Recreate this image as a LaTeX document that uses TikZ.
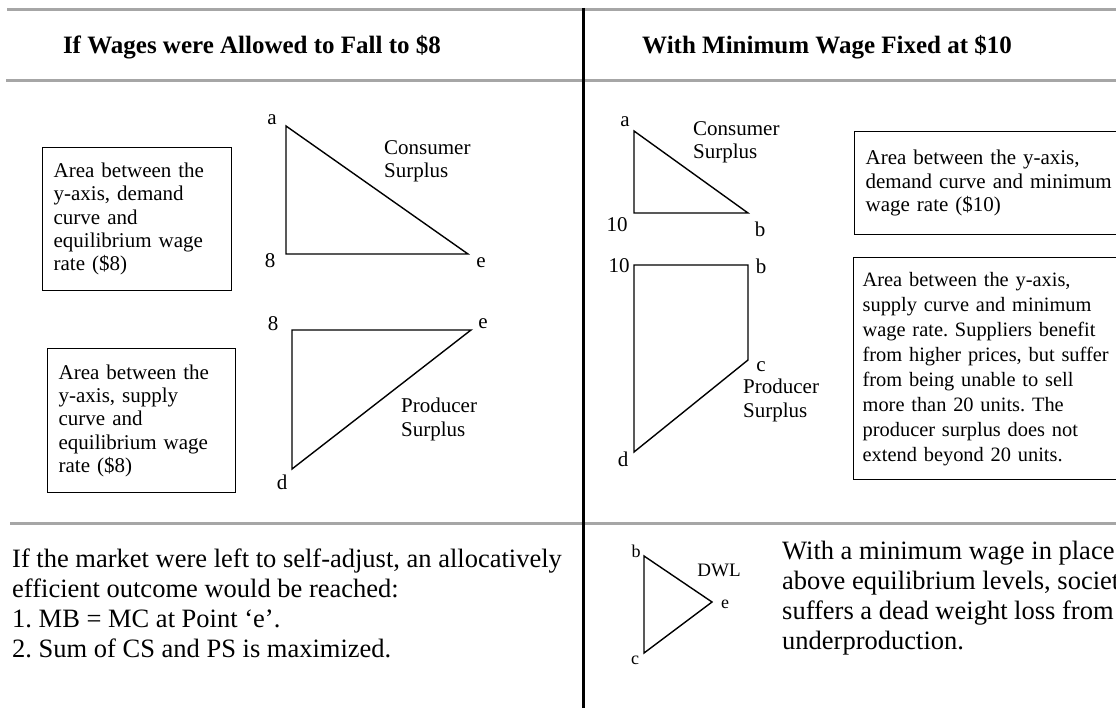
\documentclass[tikz,border=0pt]{standalone}
\usepackage{fontspec}
\setmainfont{Liberation Serif}
\usetikzlibrary{positioning}
\definecolor{rulegray}{HTML}{A6A6A6}
\frenchspacing
\newcommand\headfont{\fontsize{25}{30}\selectfont\bfseries}
\newcommand\boxfont{\fontsize{21}{23.3}\selectfont}
\newcommand\longboxfont{\fontsize{20.4}{25}\selectfont}
\newcommand\notefont{\fontsize{26.5}{30}\selectfont}
\newcommand\tinyfont{\fontsize{18}{20}\selectfont}
\begin{document}
\begin{tikzpicture}[x=1pt,y=-1pt,
    rule/.style={draw=rulegray,line width=3pt},
    divider/.style={draw=black,line width=3pt},
    area/.style={draw=black,line width=1.4pt,line join=miter},
    infobox/.style={draw=black,line width=1.3pt,align=left,anchor=north west,
      inner xsep=11pt,inner ysep=0pt,font=\boxfont},
    lbl/.style={font=\boxfont,inner sep=0pt},
    tinylbl/.style={font=\tinyfont,inner sep=0pt},
    note/.style={font=\notefont,align=left,anchor=north west,inner sep=0pt}]
  \path[use as bounding box,clip] (0,0) rectangle (1116,708);

  % table rules
  \coordinate (r1a) at (7,10);    \coordinate (r1b) at (1116,10);
  \coordinate (r2a) at (6,81);    \coordinate (r2b) at (1116,81);
  \coordinate (r3a) at (10,523);  \coordinate (r3b) at (1116,523);
  \coordinate (vtop) at (583,8);  \coordinate (vbot) at (583,708);
  \draw[rule] (r1a) -- (r1b);
  \draw[rule] (r2a) -- (r2b);
  \draw[rule] (r3a) -- (r3b);
  \draw[divider] (vtop) -- (vbot);

  % headers
  \node[font=\headfont,inner sep=0pt] (headL) at (252,47) {If Wages were Allowed to Fall to \$8};
  \node[font=\headfont,inner sep=0pt,anchor=west] (headR) at (642,47) {With Minimum Wage Fixed at \$10};

  % left: consumer surplus
  \node[infobox,text width=167pt,minimum height=143pt] (boxA) at (42,147)
    {Area between the\\y-axis, demand\\curve and\\equilibrium wage\\rate (\$8)};
  \coordinate (csA) at (286,126);
  \coordinate (cs8) at (286,254);
  \coordinate (csE) at (468,254);
  \draw[area] (csA) -- (cs8) -- (csE) -- cycle;
  \node[lbl] (lcsA) at (272,120) {a};
  \node[lbl] (lcs8) at (270,261) {8};
  \node[lbl] (lcsE) at (481,263) {e};
  \node[lbl,align=left,anchor=north west] (csText) at (384,140) {Consumer\\Surplus};

  % left: producer surplus
  \node[infobox,text width=166pt,minimum height=144pt] (boxB) at (47,348)
    {Area between the\\y-axis, supply\\curve and\\equilibrium wage\\rate (\$8)};
  \coordinate (ps8) at (292,330);
  \coordinate (psE) at (471,330);
  \coordinate (psD) at (292,469);
  \draw[area] (ps8) -- (psE) -- (psD) -- cycle;
  \node[lbl] (lps8) at (273,324) {8};
  \node[lbl] (lpsE) at (483,324) {e};
  \node[lbl] (lpsD) at (282,482) {d};
  \node[lbl,align=left,anchor=north west] (psText) at (401,398) {Producer\\Surplus};

  % right: consumer surplus
  \coordinate (mcsA) at (634,131);
  \coordinate (mcs10) at (634,213);
  \coordinate (mcsB) at (748,213);
  \draw[area] (mcsA) -- (mcs10) -- (mcsB) -- cycle;
  \node[lbl] (lmcsA) at (625,122) {a};
  \node[lbl] (lmcs10) at (617,225) {10};
  \node[lbl] (lmcsB) at (760,229) {b};
  \node[lbl,align=left,anchor=north west] (mcsText) at (693,121) {Consumer\\Surplus};
  \node[infobox,text width=278pt,minimum height=103pt] (boxC) at (854,131)
    {Area between the y-axis,\\demand curve and minimum\\wage rate (\$10)};

  % right: producer surplus
  \coordinate (mps10) at (634,265);
  \coordinate (mpsB) at (748,265);
  \coordinate (mpsC) at (748,360);
  \coordinate (mpsD) at (634,452);
  \draw[area] (mps10) -- (mpsB) -- (mpsC) -- (mpsD) -- cycle;
  \node[lbl] (lmps10) at (619,266) {10};
  \node[lbl] (lmpsB) at (761,266) {b};
  \node[lbl] (lmpsC) at (761,367) {c};
  \node[lbl] (lmpsD) at (623,459) {d};
  \node[lbl,align=left,anchor=north west] (mpsText) at (743,379) {Producer\\Surplus};
  \node[infobox,font=\longboxfont,inner xsep=9pt,text width=282pt,minimum height=222pt] (boxD) at (853,257)
    {Area between the y-axis,\\supply curve and minimum\\wage rate. Suppliers benefit\\from higher prices, but suffer\\from being unable to sell\\more than 20 units. The\\producer surplus does not\\extend beyond 20 units.};

  % bottom row
  \node[note] (noteL) at (12,549)
    {If the market were left to self-adjust, an allocatively\\efficient outcome would be reached:\\1. MB = MC at Point `e'.\\2. Sum of CS and PS is maximized.};
  \coordinate (dwlB) at (644,556);
  \coordinate (dwlC) at (644,653);
  \coordinate (dwlE) at (712,602);
  \draw[area] (dwlB) -- (dwlE) -- (dwlC) -- cycle;
  \node[tinylbl] (ldwlB) at (636,551) {b};
  \node[tinylbl] (ldwlC) at (635,660) {c};
  \node[tinylbl] (ldwlE) at (725,604) {e};
  \node[tinylbl,font=\fontsize{19}{20}\selectfont] (dwlText) at (719,570) {DWL};
  \node[note] (noteR) at (782,541)
    {With a minimum wage in place\\above equilibrium levels, society\\suffers a dead weight loss from\\underproduction.};
\end{tikzpicture}
\end{document}
